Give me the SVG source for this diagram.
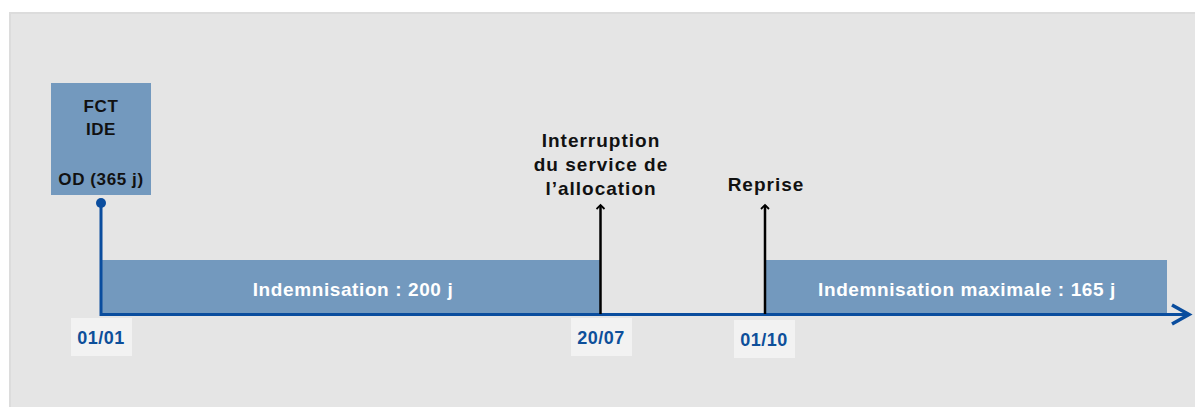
<svg xmlns="http://www.w3.org/2000/svg" width="1195" height="407" viewBox="0 0 1195 407">
<style>
.lbl{font-family:"Liberation Sans",Arial,sans-serif;font-weight:bold;text-anchor:middle}
.band{fill:#7399be}
.date{fill:#f2f2f2}
.datet{fill:#0d4f9a;font-size:18px;letter-spacing:0.5px}
.dark{fill:#111;font-size:19px;letter-spacing:1px}
.white{fill:#fff;font-size:19px;letter-spacing:0.6px}
.box{fill:#111;font-size:17px;letter-spacing:0.6px}
</style>
<defs>
<marker id="ah" markerWidth="10" markerHeight="10" refX="5" refY="5" orient="auto" markerUnits="userSpaceOnUse">
<path d="M1,1 L5,5 L1,9" fill="none" stroke="#000" stroke-width="1.8"/>
</marker>
</defs>
<rect x="0" y="0" width="1195" height="407" fill="#fff"/>
<rect x="10" y="13" width="1186" height="396" fill="#e5e5e5" stroke="#dcdcdc" stroke-width="2"/>
<g id="band1"><rect class="band" x="101" y="260" width="499" height="54"/><text class="lbl white" x="353" y="296">Indemnisation : 200 j</text></g>
<g id="band2"><rect class="band" x="765" y="260" width="402" height="54"/><text class="lbl white" x="967" y="296">Indemnisation maximale : 165 j</text></g>
<g id="fct"><rect class="band" x="51" y="83" width="100" height="112"/>
<text class="lbl box" x="101" y="112">FCT</text>
<text class="lbl box" x="101" y="135">IDE</text>
<text class="lbl box" x="101" y="185">OD (365 j)</text></g>
<g id="connectors">
<circle cx="101" cy="203" r="5" fill="#0a4d9e"/>
<path d="M101,203 V314.5 H1188" fill="none" stroke="#0a4d9e" stroke-width="3"/>
<path d="M1172,305 L1189,314.5 L1172,324" fill="none" stroke="#0a4d9e" stroke-width="3.5"/>
<line x1="600.5" y1="314" x2="600.5" y2="205" stroke="#000" stroke-width="2.5" marker-end="url(#ah)"/>
<line x1="765" y1="314" x2="765" y2="205" stroke="#000" stroke-width="2.5" marker-end="url(#ah)"/>
</g>
<g id="interruption"><text class="lbl dark" x="601" y="147">Interruption</text><text class="lbl dark" x="601" y="171">du service de</text><text class="lbl dark" x="601" y="195">l’allocation</text></g>
<g id="reprise"><text class="lbl dark" x="766" y="191">Reprise</text></g>
<g id="d1"><rect class="date" x="71" y="318" width="61" height="38"/><text class="lbl datet" x="101" y="344">01/01</text></g>
<g id="d2"><rect class="date" x="571" y="318" width="61" height="38"/><text class="lbl datet" x="601" y="344">20/07</text></g>
<g id="d3"><rect class="date" x="734" y="320" width="61" height="38"/><text class="lbl datet" x="764" y="346">01/10</text></g>
</svg>
